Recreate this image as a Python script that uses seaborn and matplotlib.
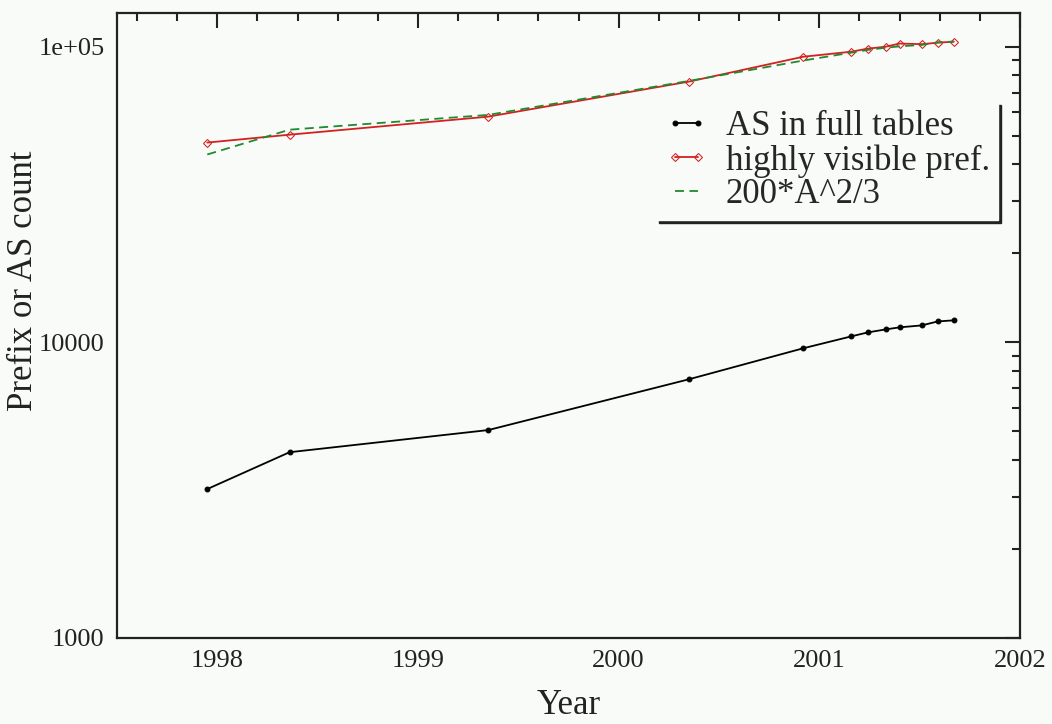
import matplotlib
matplotlib.use("Agg")
import matplotlib.pyplot as plt
import seaborn as sns
import pandas as pd
from matplotlib.ticker import FixedLocator, MultipleLocator, LogLocator, NullFormatter, FixedFormatter

# ---- data ----
years = [1997.95, 1998.36, 1999.35, 2000.35, 2000.92, 2001.16, 2001.24,
         2001.33, 2001.40, 2001.51, 2001.59, 2001.67]
as_full_tables = [3190, 4250, 5050, 7500, 9550, 10480, 10800,
                  11060, 11240, 11410, 11770, 11870]
highly_visible = [47400, 50400, 58000, 76200, 92500, 96200, 98500,
                  100000, 102500, 102000, 103200, 104000]
fit_curve = [43200, 52400, 58800, 76600, 89800, 95500, 97500,
             99200, 100300, 101400, 103500, 104100]

x_ticks = [1998, 1999, 2000, 2001, 2002]
y_ticks = [1000, 10000, 100000]
y_tick_labels = ["1000", "10000", "1e+05"]

labels = ["AS in full tables", "highly visible pref.", "200*A^2/3"]

df = pd.DataFrame({"year": years, "as": as_full_tables,
                   "hv": highly_visible, "fit": fit_curve})

sns.set_theme(style="white")
bg = "#f8fbf8"
plt.rcParams["font.family"] = ["Liberation Serif", "DejaVu Serif"]
plt.rcParams["figure.facecolor"] = bg
plt.rcParams["axes.facecolor"] = bg

fig = plt.figure(figsize=(10.52, 7.24), dpi=100)
ax = fig.add_axes([0.1112, 0.1188, 0.8584, 0.8632])

sns.lineplot(data=df, x="year", y="as", ax=ax, color="black", linewidth=1.3,
             marker="o", markersize=3.5, markeredgecolor="black", label=labels[0])
sns.lineplot(data=df, x="year", y="hv", ax=ax, color="#d42020", linewidth=1.3,
             marker="D", markersize=4.5, markerfacecolor="none",
             markeredgecolor="#d42020", label=labels[1])
sns.lineplot(data=df, x="year", y="fit", ax=ax, color="#1f8a2e", linewidth=1.3,
             linestyle=(0, (5, 3)), label=labels[2])

ax.set_yscale("log")
ax.set_xlim(1997.5, 2002)
ax.set_ylim(1000, 1.3e5)

ax.xaxis.set_major_locator(FixedLocator(x_ticks))
ax.xaxis.set_minor_locator(MultipleLocator(0.2))
ax.yaxis.set_major_locator(FixedLocator(y_ticks))
ax.yaxis.set_major_formatter(FixedFormatter(y_tick_labels))
ax.yaxis.set_minor_locator(LogLocator(base=10, subs=range(2, 10)))
ax.yaxis.set_minor_formatter(NullFormatter())

for s in ax.spines.values():
    s.set_linewidth(1.6)
    s.set_color("#222222")

ax.tick_params(which="both", direction="in", top=True, right=True,
               color="#222222", width=1.5)
ax.tick_params(which="major", length=11, labelsize=19, pad=9)
ax.tick_params(which="minor", length=6)
for lab in ax.get_xticklabels() + ax.get_yticklabels():
    lab.set_color("#222222")

ax.set_xlabel("Year", fontsize=25, labelpad=12, color="#222222")
ax.set_ylabel("Prefix or AS count", fontsize=25, labelpad=6, color="#222222")
ax.yaxis.set_label_coords(-0.085, 0.571)

leg = ax.legend(loc="upper right", bbox_to_anchor=(0.976, 0.858),
                borderaxespad=0, fontsize=25, frameon=True, numpoints=2,
                handlelength=1.25, handletextpad=0.5, labelspacing=0.02,
                borderpad=0.25, fancybox=False,
                shadow={"color": "#222222", "alpha": 1})
leg.get_frame().set_facecolor(bg)
leg.get_frame().set_edgecolor(bg)
leg.get_frame().set_alpha(1)

fig.savefig("out.png", dpi=100, facecolor=bg)
